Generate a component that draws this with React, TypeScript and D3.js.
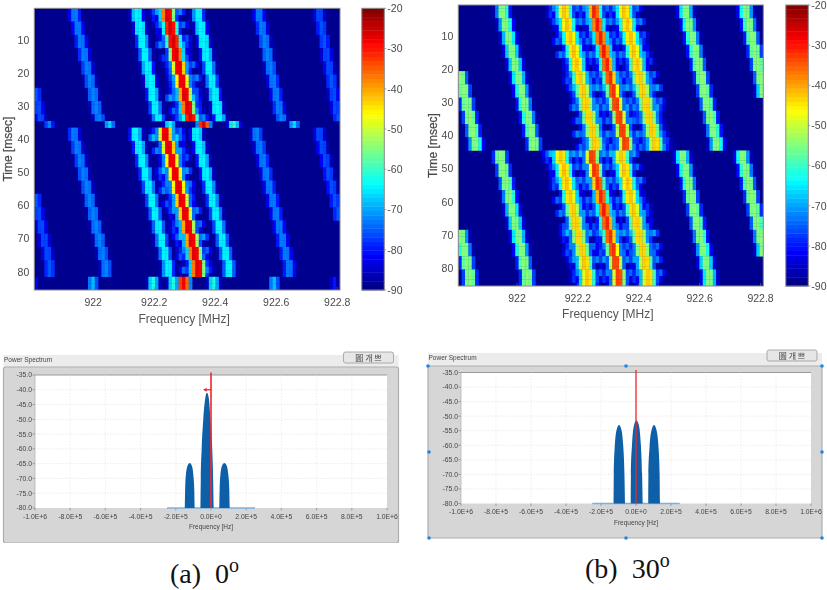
import * as d3 from "d3";

// ---------------------------------------------------------------------------
// Data
// ---------------------------------------------------------------------------

const TIME_TICKS = [10, 20, 30, 40, 50, 60, 70, 80];
const FREQ_TICKS = [922, 922.2, 922.4, 922.6, 922.8];
const BAR_TICKS = [-20, -30, -40, -50, -60, -70, -80, -90];

const LEFT_TIMES_A = [1, 5, 9, 13, 17, 21, 25, 29, 33];
const LEFT_TIMES_B = [37, 41, 45, 49, 53, 57, 61, 65, 69, 73, 77];
const RIGHT_TIMES_A = [1, 5, 9, 13, 17, 21, 25, 29, 33, 37, 41];
const RIGHT_TIMES_B = [45, 49, 53, 57, 61, 65, 69, 73, 77, 81];

type Trace = (number | null)[];

// left chart, first sweep (centre frequency per time sample)
const L_A_R0: Trace = [null, null, null, null, null, null, 921.812, 921.82, 921.827];
const L_A_R1: Trace = [921.94, 921.95, 921.96, 921.97, 921.98, 921.99, 922.0, 922.01, 922.02];
const L_A_R2: Trace = [922.144, 922.153, 922.161, 922.17, 922.178, 922.187, 922.195, 922.204, 922.213];
const L_A_R3: Trace = [922.244, 922.253, 922.263, 922.272, 922.281, 922.291, 922.3, 922.31, 922.319];
const L_A_R4: Trace = [922.344, 922.353, 922.362, 922.371, 922.38, 922.389, 922.398, 922.406, 922.415];
const L_A_R5: Trace = [922.544, 922.553, 922.562, 922.572, 922.581, 922.59, 922.6, 922.608, 922.617];
const L_A_R6: Trace = [922.741, 922.749, 922.757, 922.765, 922.773, 922.781, 922.788, 922.796, 922.803];

// left chart, second sweep
const L_B_R0: Trace = [null, null, null, null, null, 921.812, 921.82, 921.83, 921.84, 921.85, 921.857];
const L_B_R1: Trace = [921.937, 921.947, 921.958, 921.968, 921.979, 921.989, 922.0, 922.01, 922.021, 922.031, 922.042];
const L_B_R2: Trace = [922.14, 922.151, 922.161, 922.172, 922.182, 922.193, 922.203, 922.214, 922.224, 922.235, 922.245];
const L_B_R3: Trace = [922.237, 922.248, 922.258, 922.269, 922.28, 922.29, 922.301, 922.311, 922.322, 922.332, 922.343];
const L_B_R4: Trace = [922.339, 922.35, 922.36, 922.371, 922.381, 922.392, 922.402, 922.413, 922.423, 922.434, 922.445];
const L_B_R5: Trace = [922.536, 922.547, 922.557, 922.568, 922.578, 922.589, 922.6, 922.61, 922.62, 922.631, 922.642];
const L_B_R6: Trace = [922.741, 922.751, 922.762, 922.772, 922.783, 922.793, 922.803, null, null, null, null];

// right chart, first sweep
const R_A_R0: Trace = [null, null, null, null, null, 921.814, 921.824, 921.835, 921.845, 921.855, 921.864];
const R_A_R1: Trace = [921.953, 921.963, 921.973, 921.983, 921.994, 922.004, 922.014, 922.024, 922.035, 922.045, 922.055];
const R_A_R2: Trace = [922.155, 922.165, 922.175, 922.186, 922.196, 922.206, 922.216, 922.226, 922.237, 922.247, 922.257];
const R_A_R3: Trace = [922.254, 922.264, 922.274, 922.285, 922.295, 922.305, 922.315, 922.325, 922.336, 922.346, 922.356];
const R_A_R4: Trace = [922.352, 922.362, 922.373, 922.383, 922.393, 922.403, 922.413, 922.424, 922.434, 922.444, 922.454];
const R_A_R5: Trace = [922.554, 922.564, 922.574, 922.585, 922.595, 922.605, 922.615, 922.625, 922.636, 922.646, 922.656];
const R_A_R6: Trace = [922.751, 922.761, 922.771, 922.781, 922.791, 922.801, 922.808, null, null, null, null];

// right chart, second sweep
const R_B_R0: Trace = [null, null, null, null, null, null, 921.816, 921.826, 921.835, 921.845];
const R_B_R1: Trace = [921.945, 921.955, 921.965, 921.975, 921.984, 921.994, 922.004, 922.014, 922.023, 922.033];
const R_B_R2: Trace = [922.144, 922.154, 922.164, 922.174, 922.183, 922.193, 922.203, 922.213, 922.222, 922.232];
const R_B_R3: Trace = [922.246, 922.256, 922.266, 922.276, 922.285, 922.295, 922.305, 922.315, 922.324, 922.334];
const R_B_R4: Trace = [922.343, 922.353, 922.363, 922.372, 922.382, 922.392, 922.402, 922.412, 922.421, 922.431];
const R_B_R5: Trace = [922.543, 922.553, 922.563, 922.572, 922.582, 922.592, 922.602, 922.612, 922.621, 922.631];
const R_B_R6: Trace = [922.74, 922.75, 922.76, 922.77, 922.78, 922.79, 922.8, 922.808, null, null];

// speckle level next to the strong traces, one value per 2 ms
const L_SIDE_A = [-70, -78, -72, -80, -74, -70, -82, -76, -72, -80, -70, -78, -74, -68, -78, -72, -70];
const L_SIDE_B = [-72, -66, -80, -70, -74, -80, -68, -76, -72, -70, -78, -74, -70, -80, -72, -76, -68, -78, -72, -74, -80, -72];
const R_SIDE_A = [-72, -76, -70, -82, -74, -72, -80, -70, -76, -82, -72, -74, -68, -80, -72, -70, -78, -72, -82, -70, -76, -72];
const R_SIDE_B = [-68, -76, -72, -80, -70, -74, -82, -72, -76, -70, -80, -74, -68, -78, -72, -74, -70, -80, -72, -76];

// isolated blips in the short rows between sweeps: [frequency, level]
const L_GAP_ROWS = [35, 36];
const L_GAP: [number, number][] = [[921.858, -72], [922.057, -66], [922.257, -62], [922.361, -27], [922.462, -60], [922.656, -66]];
const L_TAIL_ROWS = [82, 83, 84, 85];
const L_TAIL: [number, number][] = [[921.816, -82], [921.995, -68], [922.197, -62], [922.268, -62], [922.297, -28], [922.393, -62], [922.596, -68], [922.792, -80]];

// level at 0, 1, 2, 3, 4 cells off a trace's centre
const FALLOFF = {
  lMain: [-26, -30, -62, -82, -90],
  lStrong: [-64, -65, -85, -90, -90],
  lWeak: [-72, -74, -88, -90, -90],
  lFaint: [-75, -78, -90, -90, -90],
  rMain: [-30, -37, -66, -84, -90],
  rStrong: [-42, -45, -64, -82, -90],
  rWeak: [-54, -56, -78, -90, -90],
};

// bottom panels
const DB_TICKS = [-35, -40, -45, -50, -55, -60, -65, -70, -75, -80];
const HZ_TICKS = [-1e6, -8e5, -6e5, -4e5, -2e5, 0, 2e5, 4e5, 6e5, 8e5, 1e6];
const HZ_LABELS = ["-1.0E+6", "-8.0E+5", "-6.0E+5", "-4.0E+5", "-2.0E+5", "0.0E+0", "2.0E+5", "4.0E+5", "6.0E+5", "8.0E+5", "1.0E+6"];
const FLOOR_RANGE = [-2.5e5, 2.5e5];

const A_SIDE_L_HZ = [-1.49e5, -1.47e5, -1.43e5, -1.32e5, -1.21e5, -1.1e5, -1.0e5, -9.5e4, -9.3e4];
const A_SIDE_R_HZ = [4.7e4, 4.9e4, 5.3e4, 6.4e4, 7.6e4, 8.8e4, 9.9e4, 1.04e5, 1.06e5];
const A_SIDE_DB = [-80, -74, -69, -65.5, -64.8, -65.5, -69, -74, -80];
const A_MAIN_HZ = [-6.0e4, -5.8e4, -5.3e4, -4.4e4, -3.3e4, -2.3e4, -1.2e4, -3e3, 7e3, 1.2e4, 1.5e4];
const A_MAIN_DB = [-80, -70, -60, -50, -43, -41, -43, -50, -60, -70, -80];

const B_LOBE1_HZ = [-1.28e5, -1.27e5, -1.22e5, -1.1e5, -9.7e4, -8.4e4, -7.2e4, -6.6e4, -6.3e4];
const B_LOBE2_HZ = [-3.0e4, -2.9e4, -2.3e4, -1.1e4, 2e3, 1.6e4, 2.8e4, 3.5e4, 3.8e4];
const B_LOBE3_HZ = [7.0e4, 7.1e4, 7.7e4, 9.0e4, 1.03e5, 1.16e5, 1.29e5, 1.35e5, 1.37e5];
const B_SIDE_DB = [-80, -70, -61, -54.5, -53, -54.5, -61, -70, -80];
const B_MID_DB = [-80, -70, -60, -53, -51.5, -53, -60, -70, -80];

// ---------------------------------------------------------------------------
// Shared bits
// ---------------------------------------------------------------------------

const FONT = "'Liberation Sans', Arial, sans-serif";
const SERIF = "'Liberation Serif', 'Times New Roman', serif";
const TICK_FILL = "#4a4a4a";

const FREQ_DOMAIN: [number, number] = [921.807, 922.809];
const CELL_MHZ = 0.011;
const N_ROWS = 85;
const BACKGROUND = -89;

const jet = d3
  .scaleLinear<string>()
  .domain([-90, -81.25, -63.75, -46.25, -28.75, -20])
  .range(["#00007f", "#0000ff", "#00ffff", "#ffff00", "#ff0000", "#7f0000"])
  .interpolate(d3.interpolateRgb);

type Sweep = {
  times: number[];
  end: number;
  traces: { f: Trace; falloff: number[] }[];
  side?: { values: number[]; traces: Trace[] };
};

type Blips = { rows: number[]; items: [number, number][] };

// Put the traces into a row x column level table
function buildGrid(sweeps: Sweep[], blips: Blips[]) {
  const nCols = Math.ceil((FREQ_DOMAIN[1] - FREQ_DOMAIN[0]) / CELL_MHZ);
  const grid = d3.range(N_ROWS).map(() => d3.range(nCols).map(() => BACKGROUND));
  const put = (t: number, c: number, v: number) => {
    if (t >= 1 && t <= N_ROWS && c >= 0 && c < nCols) {
      grid[t - 1][c] = Math.max(grid[t - 1][c], v);
    }
  };
  const colOf = (f: number) => (f - FREQ_DOMAIN[0]) / CELL_MHZ - 0.5;

  for (const s of sweeps) {
    s.times.forEach((t0, i) => {
      const t1 = i + 1 < s.times.length ? s.times[i + 1] : s.end;
      for (const tr of s.traces) {
        const f = tr.f[i];
        if (f === null) continue;
        const centre = Math.round(colOf(f));
        const shift = colOf(f) - centre;
        for (let c = -4; c <= 4; c++) {
          const d = Math.abs(c - shift);
          const level = d >= 4 ? -90 : d3.scaleLinear().domain([0, 1, 2, 3, 4]).range(tr.falloff)(d);
          for (let t = t0; t < t1; t++) put(t, centre + c, level);
        }
      }
      if (s.side) {
        for (const tr of s.side.traces) {
          const f = tr[i];
          if (f === null) continue;
          const centre = Math.round(colOf(f));
          [0, 1].forEach((half) => {
            const k = i * 2 + half;
            const v = s.side!.values[k];
            if (v === undefined) return;
            const t = t0 + half * 2;
            if (t >= t1) return;
            const near = k % 2 === 0 ? [[-3, 0], [3, 5], [-4, 7], [4, 2], [-5, 14], [5, 10]] : [[-3, 5], [3, 0], [-4, 2], [4, 8], [-5, 9], [5, 14]];
            for (const [c, drop] of near) {
              put(t, centre + c, v - drop);
              put(t + 1, centre + c, v - drop);
            }
          });
        }
      }
    });
  }

  for (const b of blips) {
    for (const t of b.rows) {
      for (const [f, v] of b.items) {
        const c = Math.round(colOf(f));
        put(t, c, v);
        put(t, c - 1, v - 5);
        put(t, c + 1, v - 8);
        put(t, c + 2, Math.min(v - 24, -72));
        put(t, c - 2, Math.min(v - 24, -72));
      }
    }
  }
  return grid;
}

// ---------------------------------------------------------------------------
// Waterfall with colour bar
// ---------------------------------------------------------------------------

function Waterfall({
  grid, x0, x1, y0, y1, barX, labelY, titleY, timeX,
}: {
  grid: number[][];
  x0: number; x1: number; y0: number; y1: number;
  barX: number; labelY: number; titleY: number; timeX: number;
}) {
  const x = d3.scaleLinear().domain(FREQ_DOMAIN).range([x0, x1]);
  const y = d3.scaleLinear().domain([0.5, N_ROWS + 0.5]).range([y0, y1]);
  const bar = d3.scaleLinear().domain([-90, -20]).range([y1, y0]);
  const cw = x(FREQ_DOMAIN[0] + CELL_MHZ) - x0;
  const barW = 22.5;
  const bands = d3.range(64).map((i) => -90 + (i * 70) / 64);
  const clip = `clip-${Math.round(x0)}`;

  return (
    <g>
      <clipPath id={clip}>
        <rect x={x0} y={y0} width={x1 - x0} height={y1 - y0} />
      </clipPath>
      <g clipPath={`url(#${clip})`} filter="url(#soft)">
        <rect x={x0 - 3} y={y0 - 3} width={x1 - x0 + 6} height={y1 - y0 + 6} fill={jet(BACKGROUND)} />
        {grid.map((row, r) =>
          row.map((v, c) =>
            v <= BACKGROUND ? null : (
              <rect
                key={`${r}:${c}`}
                x={x0 + c * cw}
                y={y(r + 0.5)}
                width={cw + 0.3}
                height={y(r + 1.5) - y(r + 0.5) + 0.3}
                fill={jet(v)}
              />
            ),
          ),
        )}
      </g>
      <rect x={x0} y={y0} width={x1 - x0} height={y1 - y0} fill="none" stroke="#8a8a8a" strokeWidth={1} />

      {FREQ_TICKS.map((t) => (
        <g key={t}>
          <line x1={x(t)} x2={x(t)} y1={y1} y2={y1 - 3} stroke="#777" strokeWidth={0.6} />
          <text x={x(t)} y={labelY} textAnchor="middle" fontSize={10.5} fontFamily={FONT} fill={TICK_FILL}>
            {t}
          </text>
        </g>
      ))}
      {TIME_TICKS.map((t) => (
        <text key={t} x={x0 - 5} y={y(t) + 3.8} textAnchor="end" fontSize={10.5} fontFamily={FONT} fill={TICK_FILL}>
          {t}
        </text>
      ))}
      <text x={(x0 + x1) / 2 - 3} y={titleY} textAnchor="middle" fontSize={12} fontFamily={FONT} fill="#555">
        Frequency [MHz]
      </text>
      <text
        transform={`translate(${timeX},${(y0 + y1) / 2}) rotate(-90)`}
        textAnchor="middle"
        fontSize={12}
        fontFamily={FONT}
        stroke="#4a4a4a"
        strokeWidth={0.25}
        fill="#4a4a4a"
      >
        Time [msec]
      </text>

      {bands.map((v) => (
        <rect
          key={v}
          x={barX}
          y={bar(v + 70 / 64)}
          width={barW}
          height={bar(v) - bar(v + 70 / 64) + 0.4}
          fill={jet(v + 35 / 64)}
        />
      ))}
      <rect x={barX} y={y0} width={barW} height={y1 - y0} fill="none" stroke="#8a8a8a" strokeWidth={1} />
      {BAR_TICKS.map((t) => (
        <g key={t}>
          <line x1={barX + barW} x2={barX + barW + 2} y1={bar(t)} y2={bar(t)} stroke="#777" strokeWidth={0.6} />
          <text x={barX + barW + 3} y={bar(t) + 3.8} fontSize={10.5} fontFamily={FONT} fill={TICK_FILL}>
            {t}
          </text>
        </g>
      ))}
    </g>
  );
}

// ---------------------------------------------------------------------------
// Power spectrum panel
// ---------------------------------------------------------------------------

function Spectrum({
  frame, plot, lobes, arrow, titleY, markerWidth,
}: {
  frame: { x: number; y: number; w: number; h: number };
  plot: { x0: number; x1: number; y0: number; y1: number };
  lobes: { hz: number[]; db: number[] }[];
  arrow?: boolean;
  titleY: number;
  markerWidth: number;
}) {
  const x = d3.scaleLinear().domain([-1e6, 1e6]).range([plot.x0, plot.x1]);
  const y = d3.scaleLinear().domain([-80, -35]).range([plot.y1, plot.y0]);
  const gridY = DB_TICKS.slice(1, -1);
  const gridX = HZ_TICKS.slice(1, -1);

  return (
    <g>
      <rect x={frame.x} y={titleY - 7} width={frame.w} height={frame.y - titleY + 9} fill="#ececec" />
      <text x={frame.x + 0.5} y={titleY} fontSize={6.5} fontFamily={FONT} fill="#444">
        Power Spectrum
      </text>
      <rect x={frame.x + frame.w - 55} y={titleY - 10} width={50} height={11} rx={2} fill="#e6e6e6" stroke="#9a9a9a" strokeWidth={0.8} />
      <text x={frame.x + frame.w - 30} y={titleY - 1.5} textAnchor="middle" fontSize={8} fontFamily="'Noto Sans CJK KR', sans-serif" fill="#444">
        圖 개 쁘
      </text>
      <rect x={frame.x} y={frame.y} width={frame.w} height={frame.h} rx={2} fill="#d6d6d6" stroke="#adadad" strokeWidth={1.2} />
      <rect x={plot.x0} y={plot.y0} width={plot.x1 - plot.x0} height={plot.y1 - plot.y0} fill="#fff" />
      <line x1={plot.x0} x2={plot.x1} y1={plot.y0} y2={plot.y0} stroke="#9a9a9a" strokeWidth={1} />
      <line x1={plot.x0} x2={plot.x0} y1={plot.y0} y2={plot.y1} stroke="#b5b5b5" strokeWidth={0.8} />

      {gridY.map((t) => (
        <line key={t} x1={plot.x0} x2={plot.x1} y1={y(t)} y2={y(t)} stroke="#e2e2e2" strokeWidth={0.7} strokeDasharray="1.5 1.5" />
      ))}
      {gridX.map((t) => (
        <line key={t} x1={x(t)} x2={x(t)} y1={plot.y0} y2={plot.y1} stroke="#e8e8e8" strokeWidth={0.7} strokeDasharray="1.5 1.5" />
      ))}

      {DB_TICKS.map((t) => (
        <g key={t}>
          <line x1={plot.x0 - 2.5} x2={plot.x0} y1={y(t)} y2={y(t)} stroke="#777" strokeWidth={0.6} />
          <text x={plot.x0 - 3} y={y(t) + 2.4} textAnchor="end" fontSize={6.8} fontFamily={FONT} fill="#444">
            {t.toFixed(1)}
          </text>
        </g>
      ))}
      {HZ_TICKS.map((t, i) => (
        <g key={t}>
          <line x1={x(t)} x2={x(t)} y1={plot.y1} y2={plot.y1 + 2.5} stroke="#777" strokeWidth={0.6} />
          <text x={x(t)} y={plot.y1 + 10.5} textAnchor="middle" fontSize={6.8} fontFamily={FONT} fill="#444">
            {HZ_LABELS[i]}
          </text>
        </g>
      ))}
      <text x={(plot.x0 + plot.x1) / 2} y={plot.y1 + 21} textAnchor="middle" fontSize={6.5} fontFamily={FONT} fill="#444">
        Frequency [Hz]
      </text>

      <line x1={x(FLOOR_RANGE[0])} x2={x(FLOOR_RANGE[1])} y1={y(-80)} y2={y(-80)} stroke="#7db0dc" strokeWidth={1.4} />
      {lobes.map((l, i) => {
        const pts = l.hz.map((h, k) => [h, l.db[k]] as [number, number]);
        const area = d3
          .area<[number, number]>()
          .x((d) => x(d[0]))
          .y0(y(-80))
          .y1((d) => y(d[1]))
          .curve(d3.curveMonotoneX);
        return <path key={i} d={area(pts) ?? ""} fill="#0f5fa8" />;
      })}
      <line x1={x(0)} x2={x(0)} y1={plot.y0 - 2.5} y2={y(-80)} stroke="#f0262c" strokeWidth={markerWidth} />
      {arrow && (
        <g>
          <line x1={x(-4e4)} x2={x(0)} y1={y(-40)} y2={y(-40)} stroke="#f0262c" strokeWidth={1.3} />
          <path
            d={`M${x(-4.4e4)},${y(-40)}l3.4,-2l0,4z`}
            fill="#f0262c"
          />
        </g>
      )}
    </g>
  );
}

// ---------------------------------------------------------------------------
// App
// ---------------------------------------------------------------------------

const leftGrid = buildGrid(
  [
    {
      times: LEFT_TIMES_A,
      end: 35,
      traces: [
        { f: L_A_R0, falloff: FALLOFF.lFaint },
        { f: L_A_R1, falloff: FALLOFF.lWeak },
        { f: L_A_R2, falloff: FALLOFF.lStrong },
        { f: L_A_R3, falloff: FALLOFF.lMain },
        { f: L_A_R4, falloff: FALLOFF.lStrong },
        { f: L_A_R5, falloff: FALLOFF.lWeak },
        { f: L_A_R6, falloff: FALLOFF.lFaint },
      ],
      side: { values: L_SIDE_A, traces: [L_A_R3] },
    },
    {
      times: LEFT_TIMES_B,
      end: 82,
      traces: [
        { f: L_B_R0, falloff: FALLOFF.lFaint },
        { f: L_B_R1, falloff: FALLOFF.lWeak },
        { f: L_B_R2, falloff: FALLOFF.lStrong },
        { f: L_B_R3, falloff: FALLOFF.lMain },
        { f: L_B_R4, falloff: FALLOFF.lStrong },
        { f: L_B_R5, falloff: FALLOFF.lWeak },
        { f: L_B_R6, falloff: FALLOFF.lFaint },
      ],
      side: { values: L_SIDE_B, traces: [L_B_R3] },
    },
  ],
  [
    { rows: L_GAP_ROWS, items: L_GAP },
    { rows: L_TAIL_ROWS, items: L_TAIL },
  ],
);

const rightGrid = buildGrid(
  [
    {
      times: RIGHT_TIMES_A,
      end: 45,
      traces: [
        { f: R_A_R0, falloff: FALLOFF.rWeak },
        { f: R_A_R1, falloff: FALLOFF.rWeak },
        { f: R_A_R2, falloff: FALLOFF.rStrong },
        { f: R_A_R3, falloff: FALLOFF.rMain },
        { f: R_A_R4, falloff: FALLOFF.rStrong },
        { f: R_A_R5, falloff: FALLOFF.rWeak },
        { f: R_A_R6, falloff: FALLOFF.rWeak },
      ],
      side: { values: R_SIDE_A, traces: [R_A_R3, R_A_R2, R_A_R4] },
    },
    {
      times: RIGHT_TIMES_B,
      end: 86,
      traces: [
        { f: R_B_R0, falloff: FALLOFF.rWeak },
        { f: R_B_R1, falloff: FALLOFF.rWeak },
        { f: R_B_R2, falloff: FALLOFF.rStrong },
        { f: R_B_R3, falloff: FALLOFF.rMain },
        { f: R_B_R4, falloff: FALLOFF.rStrong },
        { f: R_B_R5, falloff: FALLOFF.rWeak },
        { f: R_B_R6, falloff: FALLOFF.rWeak },
      ],
      side: { values: R_SIDE_B, traces: [R_B_R3, R_B_R2, R_B_R4] },
    },
  ],
  [],
);

const HANDLES: [number, number][] = [
  [428, 366], [626, 366], [822, 366],
  [429, 452], [822, 452],
  [429, 538], [626, 538], [822, 538],
];

export default function App() {
  return (
    <svg
      width={827}
      height={590}
      viewBox="0 0 827 590"
      style={{ position: "absolute", left: 0, top: 0, background: "#fff" }}
    >
      <defs>
        <filter id="soft" x="-2%" y="-2%" width="104%" height="104%">
          <feGaussianBlur stdDeviation={0.7} />
        </filter>
        <filter id="scan" x="0" y="0" width="100%" height="100%">
          <feGaussianBlur stdDeviation={0.3} />
        </filter>
      </defs>

      <g filter="url(#scan)">
        <Waterfall grid={leftGrid} x0={34.3} x1={340} y0={8.3} y1={290} barX={361.8} labelY={306} titleY={323} timeX={12} />
        <Waterfall grid={rightGrid} x0={458.3} x1={763.3} y0={5} y1={286} barX={785.8} labelY={302} titleY={318} timeX={437} />

        <Spectrum
          frame={{ x: 3.5, y: 367, w: 395, h: 176 }}
          plot={{ x0: 35, x1: 387, y0: 375, y1: 508 }}
          lobes={[
            { hz: A_SIDE_L_HZ, db: A_SIDE_DB },
            { hz: A_MAIN_HZ, db: A_MAIN_DB },
            { hz: A_SIDE_R_HZ, db: A_SIDE_DB },
          ]}
          arrow
          titleY={362}
          markerWidth={1.6}
        />
        <Spectrum
          frame={{ x: 428, y: 366, w: 394, h: 172 }}
          plot={{ x0: 461, x1: 811, y0: 372.5, y1: 503.5 }}
          lobes={[
            { hz: B_LOBE1_HZ, db: B_SIDE_DB },
            { hz: B_LOBE2_HZ, db: B_MID_DB },
            { hz: B_LOBE3_HZ, db: B_SIDE_DB },
          ]}
          titleY={360}
          markerWidth={1.3}
        />
        {HANDLES.map(([hx, hy]) => (
          <circle key={`${hx}:${hy}`} cx={hx} cy={hy} r={1.8} fill="#1e88e5" />
        ))}
      </g>

      <text x={170} y={583} fontSize={28} fontFamily={SERIF} fill="#111" xmlSpace="preserve">
        (a)  0<tspan dy={-11} fontSize={20}>o</tspan>
      </text>
      <text x={585} y={578} fontSize={28} fontFamily={SERIF} fill="#111" xmlSpace="preserve">
        (b)  30<tspan dy={-11} fontSize={20}>o</tspan>
      </text>
    </svg>
  );
}
